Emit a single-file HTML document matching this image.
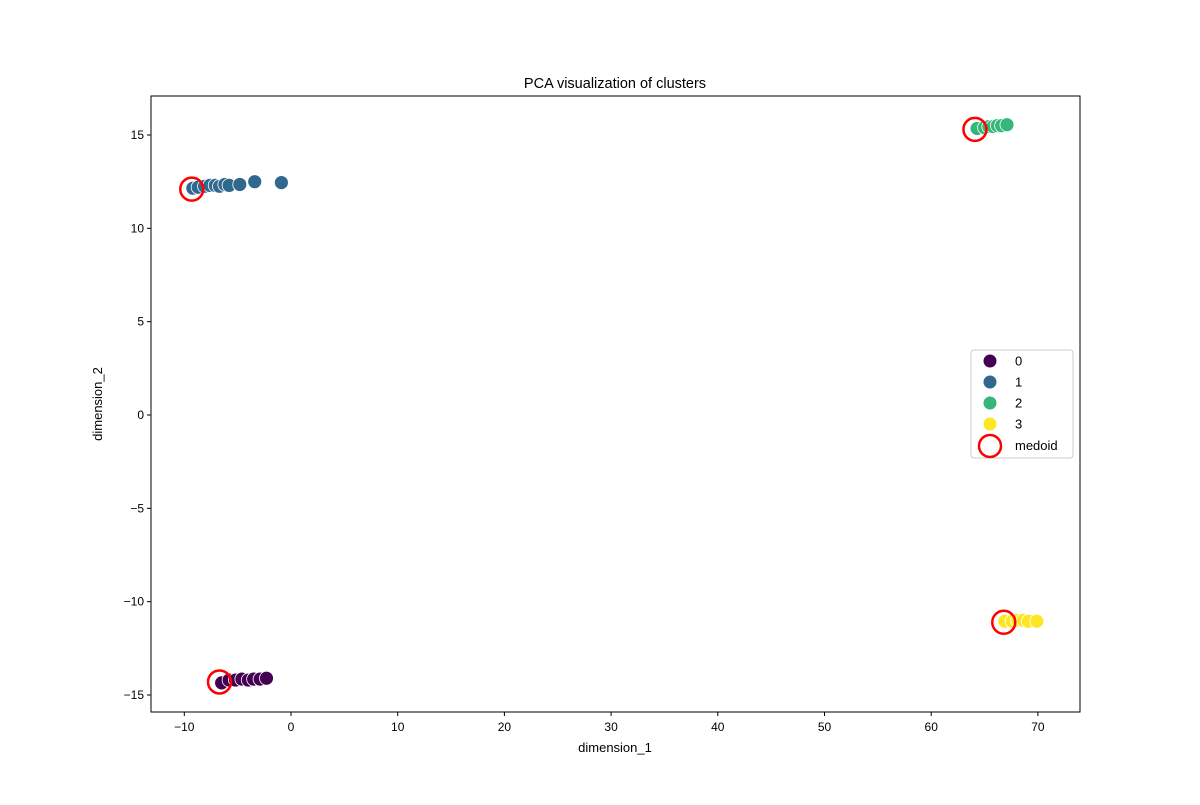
<!DOCTYPE html>
<html><head><meta charset="utf-8"><style>
body{margin:0;background:#fff;font-family:"Liberation Sans",sans-serif}
svg text{font-family:"Liberation Sans",sans-serif;fill:#000}
</style></head><body>
<svg id="chart" width="1200" height="800" xmlns="http://www.w3.org/2000/svg">
<rect width="1200" height="800" fill="#fff"/>
<g id="marks"></g>
<g id="axes"></g>
</svg>
<script>
const xTicks=[-10,0,10,20,30,40,50,60,70];
const yTicks=[-15,-10,-5,0,5,10,15];
const clusterNames=["0","1","2","3"];
const clusterColors=["#440154","#31688e","#35b779","#fde725"];
const c0x=[-6.5,-5.8,-5.2,-4.6,-4.0,-3.5,-2.9,-2.3];
const c0y=[-14.35,-14.2,-14.2,-14.15,-14.2,-14.15,-14.15,-14.1];
const c1x=[-9.2,-8.7,-8.1,-7.6,-7.1,-6.7,-6.2,-5.8,-4.8,-3.4,-0.9];
const c1y=[12.15,12.2,12.25,12.3,12.3,12.25,12.35,12.3,12.35,12.5,12.45];
const c2x=[64.3,65.0,65.4,65.8,66.2,66.6,67.1];
const c2y=[15.35,15.4,15.45,15.45,15.5,15.5,15.55];
const c3x=[66.9,67.6,68.1,68.6,69.1,69.9];
const c3y=[-11.05,-11.05,-11.0,-11.0,-11.05,-11.05];
const medoidX=[-6.7,-9.3,64.1,66.8];
const medoidY=[-14.3,12.1,15.3,-11.1];

const L=151,R=1080,T=96,B=712;
const X=v=>291+v*10.67;
const Y=v=>415-v*18.667;
const NS="http://www.w3.org/2000/svg";
function mk(t,a,p){const e=document.createElementNS(NS,t);for(const k in a)e.setAttribute(k,a[k]);p.appendChild(e);return e;}
const marks=document.getElementById('marks'),axes=document.getElementById('axes');
const xs=[c0x,c1x,c2x,c3x],ys=[c0y,c1y,c2y,c3y];
xs.forEach((arr,ci)=>{arr.forEach((v,i)=>{
 const c=mk('circle',{cx:X(v),cy:Y(ys[ci][i]),r:7,fill:clusterColors[ci],stroke:'#fff','stroke-width':0.8},marks);
 
 
});});
medoidX.forEach((v,i)=>{
 const c=mk('circle',{cx:X(v),cy:Y(medoidY[i]),r:11.5,fill:'none',stroke:'#f00','stroke-width':2.5},marks);
 
 
});
const frame=mk('rect',{x:L,y:T,width:R-L,height:B-T,fill:'none',stroke:'#000','stroke-width':1},axes);


xTicks.forEach(v=>{
 mk('line',{x1:X(v),x2:X(v),y1:B,y2:B+4,stroke:'#000'},axes);
 const t=mk('text',{x:X(v),y:B+19,'text-anchor':'middle','font-size':12},axes);
 t.textContent=v<0?'\u2212'+(-v):v;
 
 
});
yTicks.forEach(v=>{
 mk('line',{x1:L-4,x2:L,y1:Y(v),y2:Y(v),stroke:'#000'},axes);
 const t=mk('text',{x:L-7,y:Y(v)+4,'text-anchor':'end','font-size':12},axes);
 t.textContent=v<0?'\u2212'+(-v):v;
 
 
});
let t=mk('text',{x:615,y:752,'text-anchor':'middle','font-size':13},axes);t.textContent='dimension_1';


t=mk('text',{x:102,y:404,'text-anchor':'middle','font-size':13,transform:'rotate(-90 102 404)'},axes);t.textContent='dimension_2';


t=mk('text',{x:615,y:88,'text-anchor':'middle','font-size':14.5},axes);t.textContent='PCA visualization of clusters';


// legend
const lg=mk('g',{},axes);


mk('rect',{x:971,y:350,width:102,height:108,rx:3,fill:'#fff','fill-opacity':0.8,stroke:'#ccc'},lg);
clusterNames.forEach((n,i)=>{
 const yy=361+i*21;
 const c=mk('circle',{cx:990,cy:yy,r:6.5,fill:clusterColors[i]},lg);
 
 
 const tx=mk('text',{x:1015,y:yy+4.5,'font-size':13},lg);tx.textContent=n;
 
 
});
const mc=mk('circle',{cx:990,cy:446,r:11,fill:'none',stroke:'#f00','stroke-width':2.5},lg);


const mt=mk('text',{x:1015,y:450,'font-size':13},lg);mt.textContent='medoid';


</script>
</body></html>
